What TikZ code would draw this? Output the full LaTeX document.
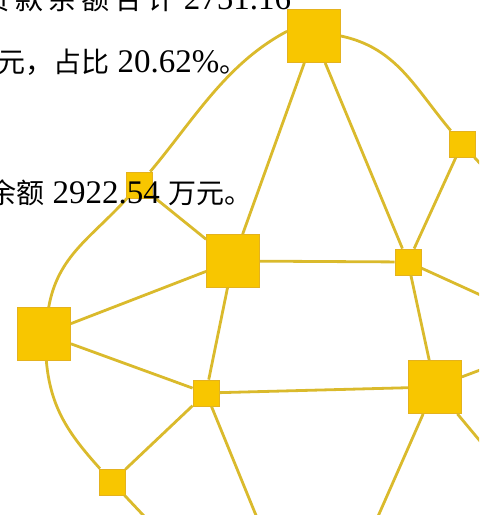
\documentclass[tikz,border=0pt]{standalone}
\usepackage{fontspec}
\setmainfont{Liberation Serif}
\newfontfamily\cjk{Noto Sans CJK SC}
\newfontfamily\cjkwide[LetterSpace=18]{Noto Sans CJK SC}
\usetikzlibrary{positioning}
\usetikzlibrary{calc}

\definecolor{boxfill}{RGB}{248,198,0}
\definecolor{boxline}{RGB}{228,178,30}
\definecolor{linkcol}{RGB}{218,186,44}

\newcommand{\zh}[1]{{\cjk\fontsize{14}{16}\selectfont #1}}
\newcommand{\zhwide}[1]{{\cjkwide\fontsize{14}{16}\selectfont #1}}

\begin{document}
\begin{tikzpicture}[x=0.5pt, y=-0.5pt,
  every node/.style={inner sep=0pt},
  big/.style={rectangle, draw=boxline, fill=boxfill, line width=0.4pt, minimum size=26.5pt},
  small/.style={rectangle, draw=boxline, fill=boxfill, line width=0.4pt, minimum size=13pt},
  link/.style={draw=linkcol, line width=1.4pt},
  txt/.style={anchor=base west, font=\fontsize{16.5}{18}\selectfont}]
  \useasboundingbox (0,0) rectangle (479,515);
  \clip (0,0) rectangle (479,515);

  \node[big] (top) at (314,36) {};
  \node[small] (nw) at (139,185) {};
  \node[big] (hub) at (233,261) {};
  \node[small] (mid) at (408,262) {};
  \node[small] (ne) at (462,144) {};
  \node[big] (west) at (44,334) {};
  \node[small] (low) at (206,393) {};
  \node[small] (sw) at (112,482) {};
  \node[big] (se) at (435,387) {};

  % links that leave the page
  \coordinate (out1) at (520,313);
  \coordinate (out2) at (500,185);
  \coordinate (out3) at (520,355);
  \coordinate (out4) at (510,477);
  \coordinate (out5) at (372,530);
  \coordinate (out6) at (262,530);
  \coordinate (out7) at (160,533);

  \draw[link] (top.170) to[out=208, in=50, looseness=0.9] (nw);
  \draw[link] (top.east) to[out=-12, in=130] (ne);
  \draw[link] (nw) to[out=228, in=80] (west);
  \draw[link] (west) to[out=-85, in=132] (sw);

  \draw[link] (top) -- (hub);
  \draw[link] (top) -- (mid);
  \draw[link] (nw) -- (hub);
  \draw[link] (hub) -- (mid);
  \draw[link] (hub) -- (west);
  \draw[link] (hub) -- (low);
  \draw[link] (west) -- (low);
  \draw[link] (low) -- (sw);
  \draw[link] (low) -- (se);
  \draw[link] (mid) -- (se);
  \draw[link] (mid) -- (ne);

  \draw[link] (mid) -- (out1);
  \draw[link] (ne) -- (out2);
  \draw[link] (se) -- (out3);
  \draw[link] (se) -- (out4);
  \draw[link] (se) -- (out5);
  \draw[link] (low) -- (out6);
  \draw[link] (sw) -- (out7);

  % page text over the network
  \node[txt] (line1) at (-18,9) {\zhwide{贷款余额合计} 2751.16};
  \node[txt] (line2) at (-3,72) {\zh{元，占比} 20.62\%\zh{。}};
  \node[txt] (line3) at (-12,203) {\zh{余额} 2922.54 \zh{万元。}};
\end{tikzpicture}
\end{document}
